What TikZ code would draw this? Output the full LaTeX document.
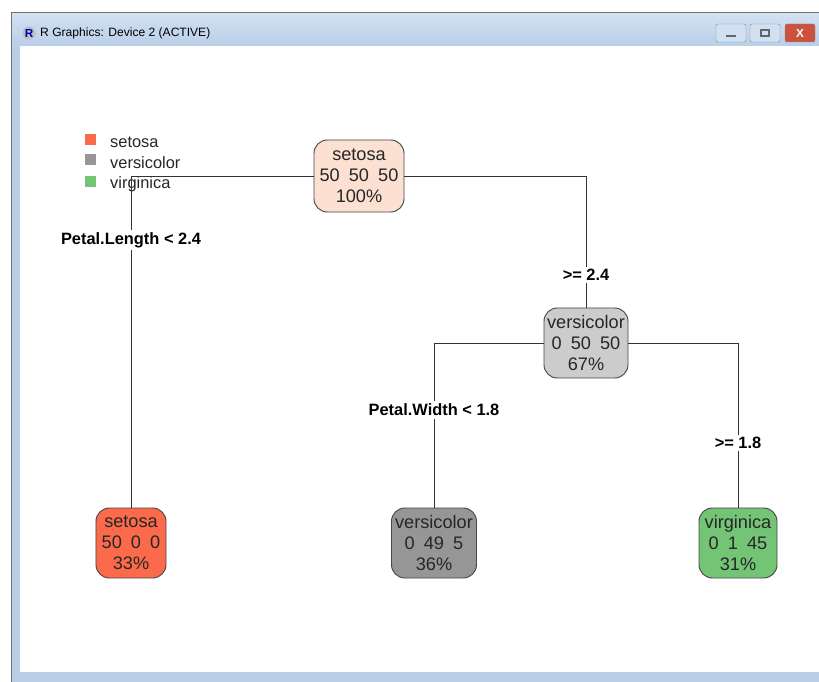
\documentclass[tikz,border=0pt]{standalone}
\usepackage{fontspec}
\setmainfont{Liberation Sans}
\usetikzlibrary{calc,positioning}
\definecolor{FrameBlue}{RGB}{185,207,232}
\definecolor{FrameTop}{RGB}{210,225,242}
\definecolor{SetosaLight}{RGB}{252,224,210}
\definecolor{SetosaRed}{RGB}{251,106,74}
\definecolor{VersiLight}{RGB}{204,204,204}
\definecolor{VersiGrey}{RGB}{150,150,150}
\definecolor{VirgiGreen}{RGB}{116,196,118}
\definecolor{CloseRed}{RGB}{204,82,62}

\begin{document}
\begin{tikzpicture}[x=0.03cm,y=-0.03cm]
        \tikzset{treebox/.style={draw=black!72,line width=0.8pt,rounded corners=4mm,minimum width=2.1cm,minimum height=2.1cm,align=center,inner sep=1pt,text=black!85,font=\fontsize{15.5}{17.8}\selectfont},
          splitlabel/.style={font=\bfseries\fontsize{14}{16}\selectfont,inner sep=2pt,fill=white},
          legendsq/.style={minimum size=0.33cm,inner sep=0pt},
          legendtext/.style={anchor=west,inner sep=0pt,text=black!85,font=\fontsize{14}{16}\selectfont},
          winbutton/.style={draw=black!45,rounded corners=0.6mm,fill=FrameTop,minimum width=0.9cm,minimum height=0.54cm}}
        \useasboundingbox (0,0) rectangle (819,682);
        % window frame
        \fill[white] (0,0) rectangle (819,682);
        \fill[FrameBlue] (11,12) rectangle (819,682);
        \shade[top color=FrameTop,bottom color=FrameBlue] (11,13) rectangle (819,46);
        \draw[black!55,line width=0.8pt] (11,682) -- (11,12) -- (819,12);
        \fill[white] (20,46) rectangle (819,672);
        \node[circle,fill=black!25,inner sep=0pt,minimum size=0.4cm] (ricon) at (29,33) {};
        \node[text=blue!70!black,font=\bfseries\fontsize{10}{10}\selectfont,inner sep=0pt] at (ricon) {R};
        \node[anchor=west,inner sep=0pt,font=\fontsize{10.3}{12}\selectfont] (title) at (40,33) {R Graphics: Device 2 (ACTIVE)};
        \node[winbutton] (minbtn) at (731,33) {};
        \node[winbutton] (maxbtn) at (765,33) {};
        \node[winbutton,fill=CloseRed] (closebtn) at (800,33) {};
        \fill[black!60] ($(minbtn)+(-5,2)$) rectangle ($(minbtn)+(5,4)$);
        \draw[black!60,line width=1pt] ($(maxbtn)+(-4,-3)$) rectangle ($(maxbtn)+(4,3)$);
        \node[text=white,font=\bfseries\fontsize{10}{10}\selectfont,inner sep=0pt] at (closebtn) {X};
        % legend
        \node[legendsq,fill=SetosaRed] (sqa) at (90,140) {};
        \node[legendsq,fill=VersiGrey] (sqb) at (90,160) {};
        \node[legendsq,fill=VirgiGreen] (sqc) at (90,182) {};
        \node[legendtext] (lga) at (110,142) {setosa};
        \node[legendtext] (lgb) at (110,163) {versicolor};
        \node[legendtext] (lgc) at (110,184) {virginica};
        % tree
        \node[treebox,fill=SetosaLight,minimum width=2.7cm,minimum height=2.16cm] (root) at (359,176) {setosa\\50\enspace50\enspace50\\100\%};
        \node[treebox,fill=VersiLight,minimum width=2.52cm] (versi) at (586,343) {versicolor\\0\enspace50\enspace50\\67\%};
        \node[treebox,fill=SetosaRed] (leafa) at (131,543) {setosa\\50\enspace0\enspace0\\33\%};
        \node[treebox,fill=VersiGrey,minimum width=2.55cm] (leafb) at (434,543) {versicolor\\0\enspace49\enspace5\\36\%};
        \node[treebox,fill=VirgiGreen,minimum width=2.34cm] (leafc) at (738,543) {virginica\\0\enspace1\enspace45\\31\%};
        \node[splitlabel] (spla) at (131,240) {Petal.Length < 2.4};
        \node[splitlabel] (splb) at (586,275) {>= 2.4};
        \node[splitlabel] (splc) at (434,410) {Petal.Width < 1.8};
        \node[splitlabel] (spld) at (738,443) {>= 1.8};
        \draw[black!80,line width=0.6pt] (root.west) -| (spla.north);
        \draw[black!80,line width=0.6pt] (root.east) -| (splb.north);
        \draw[black!80,line width=0.6pt] (versi.west) -| (splc.north);
        \draw[black!80,line width=0.6pt] (versi.east) -| (spld.north);
        \foreach \x/\y in {spla/leafa,splb/versi,splc/leafb,spld/leafc}{\draw[black!80,line width=0.6pt] (\x) -- (\y);}
      \end{tikzpicture}
\end{document}
